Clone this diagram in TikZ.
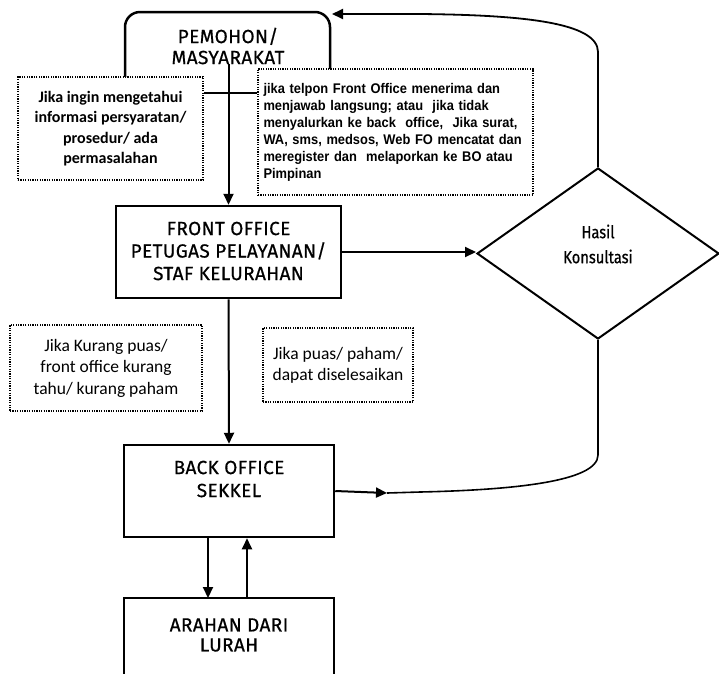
\documentclass[tikz,border=0pt]{standalone}
\usepackage{fontspec}
\setmainfont{Fira Sans}
\newfontfamily\labelfont[FakeBold=0.6,LetterSpace=2]{Fira Sans}
\newfontfamily\condfont[FakeStretch=0.84,FakeBold=0.6]{Fira Sans}
\newfontfamily\notefont{Carlito}
\newfontfamily\narrowfont[FakeStretch=0.92]{Liberation Sans}
\usetikzlibrary{shapes.geometric,arrows.meta}

\tikzset{
  arr/.style={line width=2pt,-{Triangle[length=11pt,width=10pt]}},
  plain/.style={line width=2pt},
  box/.style={draw,line width=2.5pt,inner sep=0pt},
  lbl/.style={inner sep=0pt,align=center,font=\labelfont\fontsize{19}{22}\selectfont},
  note/.style={draw,fill=white,line width=1.2pt,dash pattern=on 1.2pt off 1.2pt,inner sep=0pt},
}

\begin{document}
\begin{tikzpicture}[x=1pt,y=-1pt]
\useasboundingbox (0,0) rectangle (719,673);

% applicant box: only the rounded top is visible above the notes
\draw[line width=2.5pt,rounded corners=15pt] (125,77) -- (125,12) -- (330,12) -- (330,69);
\node[lbl,font=\labelfont\fontsize{19}{21}\selectfont] (pemohon) at (228,46) {PEMOHON/\\MASYARAKAT};

% front office
\node[box,minimum width=225pt,minimum height=92pt] (front) at (228.5,252) {};
\node[lbl,font=\labelfont\fontsize{19}{22.5}\selectfont] (frontTxt) at (228.5,251) {FRONT OFFICE\\PETUGAS PELAYANAN/\\STAF KELURAHAN};

% back office
\node[box,minimum width=210pt,minimum height=92pt] (back) at (229,491) {};
\node[lbl,font=\labelfont\fontsize{19}{23}\selectfont] (backTxt) at (229,479) {BACK OFFICE\\SEKKEL};

% lurah box, open at the bottom
\draw[line width=2.5pt] (124,680) -- (124,598) -- (334,598) -- (334,680);
\coordinate (arahanTop) at (229,598);
\node[lbl,font=\labelfont\fontsize{19}{20}\selectfont] (arahan) at (229,635) {ARAHAN DARI\\LURAH};

% decision
\node[diamond,draw,line width=2pt,minimum width=242pt,minimum height=171pt,inner sep=0pt] (dia) at (598,253.5) {};
\node[inner sep=0pt,align=center,font=\condfont\fontsize{17.5}{25}\selectfont] (diaTxt) at (598,244) {Hasil\\Konsultasi};

% notes
\node[note,minimum width=185pt,minimum height=103pt,align=center,
      font=\notefont\bfseries\fontsize{16}{20.5}\selectfont] (noteA) at (110.5,128.5)
  {Jika ingin mengetahui\\informasi persyaratan/\\prosedur/ ada\\permasalahan};
\node[note,minimum width=275pt,minimum height=126pt,align=left,text width=264pt,
      font=\narrowfont\bfseries\fontsize{14}{17}\selectfont] (noteB) at (395.5,132)
  {jika telpon Front Office menerima dan\\menjawab langsung; atau\ \ jika tidak\\menyalurkan ke back\ \ office,\ \ Jika surat,\\WA, sms, medsos, Web FO mencatat dan\\meregister dan\ \ melaporkan ke BO atau\\Pimpinan};
\node[note,minimum width=192pt,minimum height=86pt,align=center,
      font=\notefont\fontsize{17.5}{21.5}\selectfont] (noteC) at (106,368)
  {Jika Kurang puas/\\front office kurang\\tahu/ kurang paham};
\node[note,minimum width=150pt,minimum height=74pt,align=center,
      font=\notefont\fontsize{17.5}{21}\selectfont] (noteD) at (338,365)
  {Jika puas/ paham/\\dapat diselesaikan};

% connectors
\coordinate (linkY) at (0,93);
\draw[plain] (noteA.east |- linkY) -- (noteB.west |- linkY);
\draw[arr] (pemohon.south -| front.north) -- (front.north);
\draw[arr] (front.east) -- (front.east -| dia.west);
\draw[arr] (front.south) -- (back.north);
\draw[arr] ([xshift=-21pt]back.south) -- ([xshift=-21pt]arahanTop);
\draw[arr] ([xshift=18pt]arahanTop) -- ([xshift=18pt]back.south);

% feedback loops around the decision
\coordinate (pemohonTR) at (332,14);
\draw[line width=1.8pt,-{Triangle[length=11pt,width=10pt]}] (dia.north) -- (598,52)
  .. controls (598,22) and (520,15) .. (420,14) -- (pemohonTR);
\coordinate (backTip) at (387,493);
\draw[arr] (back.east) -- (backTip);
\draw[line width=1.6pt] (dia.south) -- (598,455)
  .. controls (598,482) and (510,490) .. (420,492) -- (backTip);
\end{tikzpicture}
\end{document}
